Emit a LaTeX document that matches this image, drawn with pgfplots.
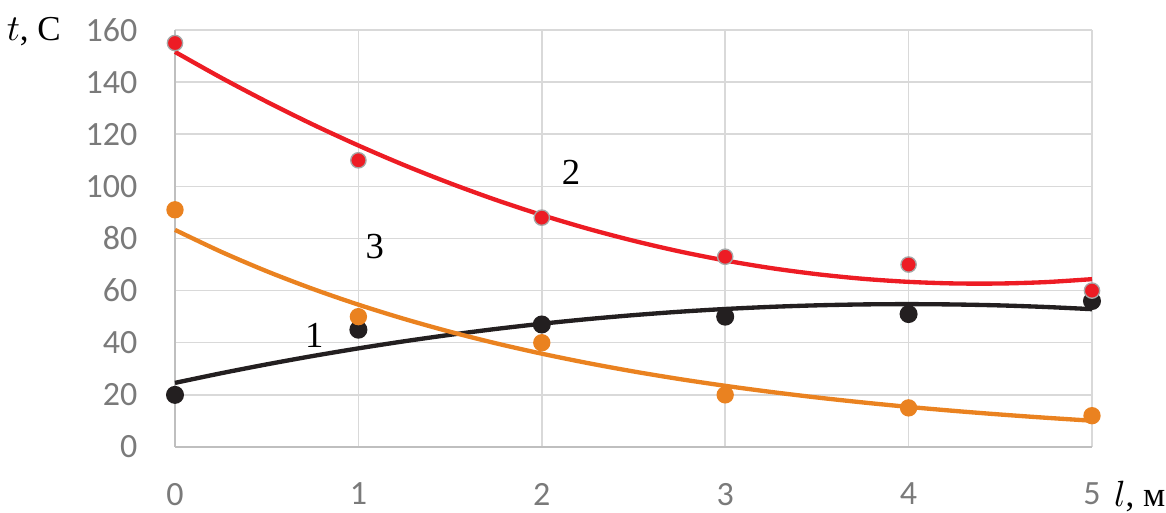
\documentclass[border=0pt]{standalone}
\usepackage{pgfplots}
\pgfplotsset{compat=1.18}
\usepackage{fontspec}
\setmainfont{Carlito}
\newfontfamily\seriffont{Liberation Serif}

\definecolor{seriesred}{HTML}{ED1C24}
\definecolor{seriesorange}{HTML}{EA8220}
\definecolor{seriesblack}{HTML}{231F20}
\definecolor{gridgray}{HTML}{D9D9D9}
\definecolor{axisgray}{HTML}{BFBFBF}
\definecolor{labelgray}{HTML}{7A7A7A}
\definecolor{markeredge}{HTML}{A6A6A6}

\begin{document}
\begin{tikzpicture}
\begin{axis}[
  scale only axis,
  width=275.1pt, height=125.1pt,
  xmin=0, xmax=5, ymin=0, ymax=160,
  xtick={0,1,2,3,4,5},
  ytick={0,20,40,60,80,100,120,140,160},
  grid=major,
  grid style={draw=gridgray, line width=0.45pt},
  axis lines*=left,
  axis line style={draw=axisgray, line width=0.5pt},
  major tick length=0pt,
  tick label style={font=\fontsize{10.2}{12}\selectfont, text=labelgray, inner sep=0pt},
  xticklabel shift=10.6pt,
  yticklabel shift=11.1pt,
  /pgf/number format/assume math mode=true,
  clip=false,
]

% measured points
\addplot[only marks, mark=*, mark size=2.5pt, mark options={fill=seriesblack, draw=seriesblack}]
  coordinates {(0,20) (1,45) (2,47) (3,50) (4,51) (5,56)};
\addplot[only marks, mark=*, mark size=2.4pt, mark options={fill=seriesorange, draw=seriesorange}]
  coordinates {(0,91) (1,50) (2,40) (3,20) (4,15) (5,12)};
\addplot[only marks, mark=*, mark size=2.3pt, mark options={fill=seriesred, draw=markeredge, line width=0.4pt}]
  coordinates {(0,155) (1,110) (2,88) (3,73) (4,70) (5,60)};

% trend curves
\addplot[seriesblack, line width=1.3pt, smooth, no marks] coordinates {
  (0,24.60) (0.25,28.27) (0.5,31.70) (0.75,34.89) (1,37.84) (1.25,40.56)
  (1.5,43.04) (1.75,45.29) (2,47.29) (2.25,49.06) (2.5,50.59) (2.75,51.89)
  (3,52.95) (3.25,53.77) (3.5,54.35) (3.75,54.70) (4,54.81) (4.25,54.68)
  (4.5,54.32) (4.75,53.71) (5,52.88)};
\addplot[seriesorange, line width=1.3pt, smooth, no marks] coordinates {
  (0,83.30) (0.25,74.95) (0.5,67.44) (0.75,60.69) (1,54.61) (1.25,49.14)
  (1.5,44.21) (1.75,39.78) (2,35.80) (2.25,32.21) (2.5,28.98) (2.75,26.08)
  (3,23.47) (3.25,21.12) (3.5,19.00) (3.75,17.10) (4,15.38) (4.25,13.84)
  (4.5,12.46) (4.75,11.21) (5,10.08)};
\addplot[seriesred, line width=1.3pt, smooth, no marks] coordinates {
  (0,151.60) (0.25,141.75) (0.5,132.49) (0.75,123.79) (1,115.68) (1.25,108.14)
  (1.5,101.19) (1.75,94.80) (2,89.00) (2.25,83.77) (2.5,79.13) (2.75,75.05)
  (3,71.56) (3.25,68.64) (3.5,66.31) (3.75,64.54) (4,63.36) (4.25,62.75)
  (4.5,62.73) (4.75,63.27) (5,64.40)};

% curve numbers
\node[font=\seriffont\fontsize{11}{13}\selectfont] at (axis cs:0.76,43) {1};
\node[font=\seriffont\fontsize{11}{13}\selectfont] at (axis cs:2.16,105.5) {2};
\node[font=\seriffont\fontsize{11}{13}\selectfont] at (axis cs:1.09,77) {3};

% axis titles
\node[anchor=base, font=\seriffont\fontsize{10.5}{12}\selectfont] at (axis cs:-0.77,155.8) {$t$, C};
\node[anchor=base, font=\seriffont\fontsize{10.5}{12}\selectfont] at (axis cs:5.26,-22.8) {$l$, м};
\end{axis}
\pgfresetboundingbox
\path ([xshift=-52.5pt,yshift=-19.8pt]current axis.south west)
  rectangle ([xshift=22.2pt,yshift=9pt]current axis.north east);
\end{tikzpicture}
\end{document}
